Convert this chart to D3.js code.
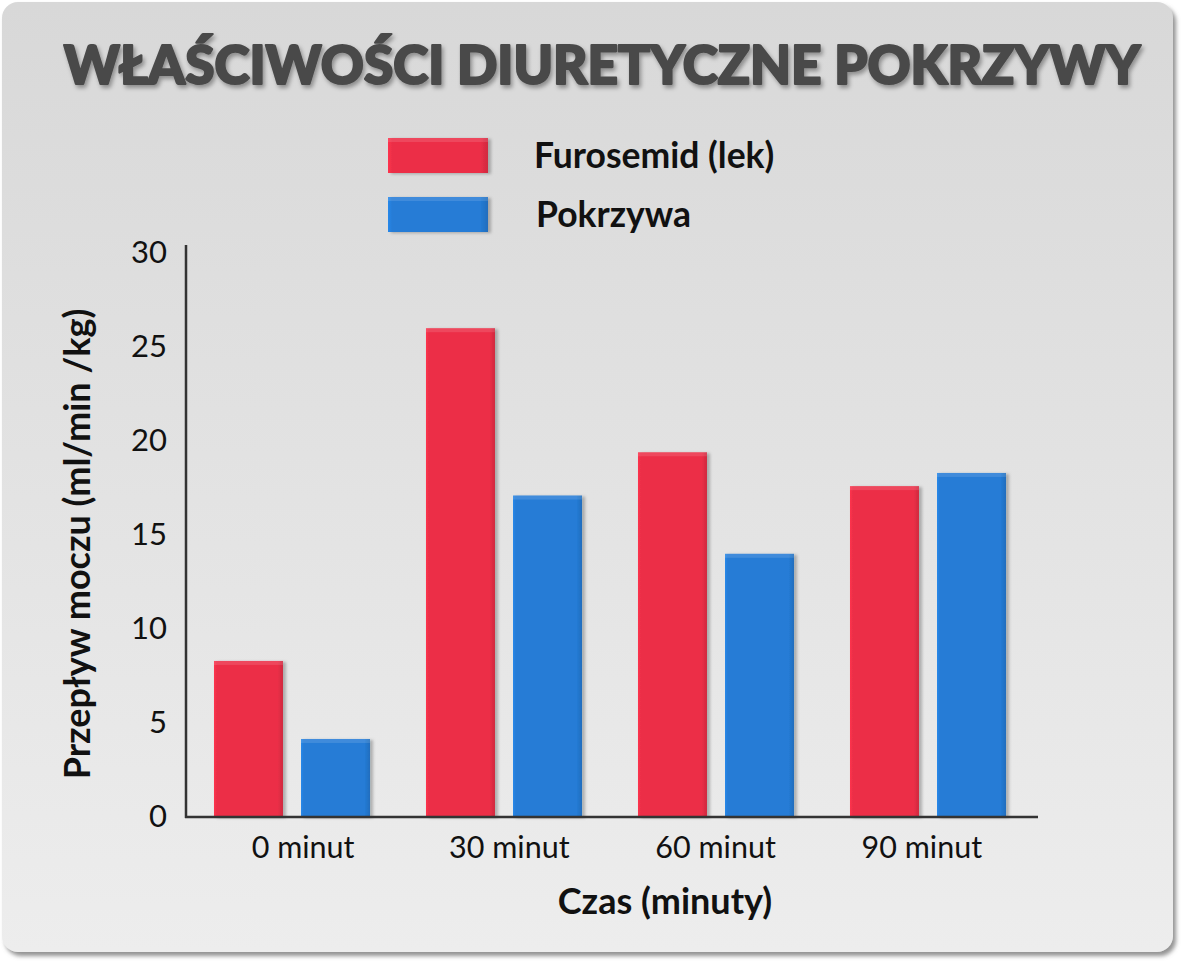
<!DOCTYPE html>
<html>
<head>
<meta charset="utf-8">
<script src="https://cdn.jsdelivr.net/npm/d3@7"></script>
<style>
  body { margin: 0; background: #fff; }
  svg { display: block; font-family: Lato, "Open Sans", sans-serif; }
</style>
</head>
<body>
<svg id="chart"></svg>
<script>
// data
var categories = ["0 minut", "30 minut", "60 minut", "90 minut"]
var seriesNames = ["Furosemid (lek)", "Pokrzywa"]
var furosemid = [8.3, 26.0, 19.4, 17.6]
var pokrzywa = [4.15, 17.1, 14.0, 18.3]
var yTicks = [0, 5, 10, 15, 20, 25, 30]

var width = 1183
var height = 965
var colors = ["#ec2f47", "#257cd6"]

var svg = d3.select("#chart").attr("width", width).attr("height", height)
var defs = svg.append("defs")

// card background
var bg = defs.append("linearGradient").attr("id", "bg").attr("x1", 0).attr("x2", 0).attr("y1", 0).attr("y2", 1)
bg.append("stop").attr("offset", "0%").attr("stop-color", "#d8d8d8")
bg.append("stop").attr("offset", "100%").attr("stop-color", "#ededed")

var sh = defs.append("filter").attr("id", "cardShadow").attr("x", "-5%").attr("y", "-5%").attr("width", "110%").attr("height", "110%")
sh.append("feDropShadow").attr("dx", 3).attr("dy", 4).attr("stdDeviation", 2).attr("flood-color", "#777").attr("flood-opacity", 0.8)

var bs = defs.append("filter").attr("id", "barShadow").attr("x", "-20%").attr("y", "-10%").attr("width", "140%").attr("height", "120%")
bs.append("feDropShadow").attr("dx", 3).attr("dy", 1).attr("stdDeviation", 1.5).attr("flood-color", "#000").attr("flood-opacity", 0.25)

var ts = defs.append("filter").attr("id", "titleShadow").attr("x", "-5%").attr("y", "-20%").attr("width", "110%").attr("height", "140%")
ts.append("feDropShadow").attr("dx", 2).attr("dy", 3).attr("stdDeviation", 2).attr("flood-color", "#000").attr("flood-opacity", 0.35)

// horizontal shading on bars: light left edge, dark right edge
colors.forEach(function (c, i) {
  var g = defs.append("linearGradient").attr("id", "bar" + i).attr("x1", 0).attr("x2", 1).attr("y1", 0).attr("y2", 0)
  g.append("stop").attr("offset", "0%").attr("stop-color", d3.color(c).brighter(0.25))
  g.append("stop").attr("offset", "4%").attr("stop-color", c)
  g.append("stop").attr("offset", "92%").attr("stop-color", c)
  g.append("stop").attr("offset", "100%").attr("stop-color", d3.color(c).darker(0.35))
})

svg.append("rect")
  .attr("x", 2).attr("y", 2)
  .attr("width", 1171).attr("height", 950)
  .attr("rx", 16)
  .attr("fill", "url(#bg)")
  .attr("filter", "url(#cardShadow)")

// title (stroke thickens it towards Lato Black)
var title = svg.append("text")
  .attr("x", 602).attr("y", 84)
  .attr("text-anchor", "middle")
  .attr("font-weight", 900)
  .attr("font-size", 62)
  .attr("fill", "#4a4a4a")
  .attr("stroke", "#4a4a4a").attr("stroke-width", 2.2).attr("stroke-linejoin", "round")
  .attr("filter", "url(#titleShadow)")
  .text("WŁAŚCIWOŚCI DIURETYCZNE POKRZYWY")
var tw = title.node().getComputedTextLength()
title.attr("font-size", 62 * 1077 / tw)

// scales
var x0 = d3.scaleBand().domain(categories).range([186, 1034]).paddingInner(0.264).paddingOuter(0.132)
var x1 = d3.scaleBand().domain(seriesNames).range([0, x0.bandwidth()]).paddingInner(0.207)
var xLabel = d3.scaleBand().domain(categories).range([200, 1025])
var y = d3.scaleLinear().domain([0, 30]).range([817, 253])

var rows = categories.map(function (c, i) {
  return { cat: c, values: [furosemid[i], pokrzywa[i]] }
})

// bars
var groups = svg.append("g").selectAll("g")
  .data(rows)
  .join("g")
  .attr("transform", d => `translate(${x0(d.cat)},0)`)

groups.selectAll("g")
  .data(d => d.values.map((v, i) => ({ v: v, i: i })))
  .join("g")
  .each(function (d) {
    var g = d3.select(this)
    var bx = x1(seriesNames[d.i])
    g.append("rect")
      .attr("x", bx).attr("y", y(d.v))
      .attr("width", x1.bandwidth()).attr("height", y(0) - y(d.v))
      .attr("fill", "url(#bar" + d.i + ")")
      .attr("filter", "url(#barShadow)")
    g.append("rect")
      .attr("x", bx).attr("y", y(d.v))
      .attr("width", x1.bandwidth()).attr("height", 4)
      .attr("fill", "#fff").attr("fill-opacity", 0.12)
  })

// axes
var yAxis = svg.append("g")
  .attr("transform", "translate(186,0)")
  .call(d3.axisLeft(y).tickValues(yTicks).tickSize(0).tickPadding(19))
yAxis.select(".domain").remove()
yAxis.selectAll("text").attr("font-family", "Lato").attr("font-size", 31).attr("fill", "#111")

svg.append("line")
  .attr("x1", 186).attr("x2", 186).attr("y1", 245).attr("y2", y(0) + 1)
  .attr("stroke", "#333").attr("stroke-width", 2.5)

var xAxis = svg.append("g")
  .attr("transform", `translate(0,${y(0)})`)
  .call(d3.axisBottom(xLabel).tickSize(0).tickPadding(19))
xAxis.select(".domain").remove()
xAxis.selectAll("text").attr("font-family", "Lato").attr("font-size", 30.5).attr("fill", "#111")

svg.append("line")
  .attr("x1", 185).attr("x2", 1038).attr("y1", y(0)).attr("y2", y(0))
  .attr("stroke", "#333").attr("stroke-width", 2.5)

// axis titles
svg.append("text")
  .attr("x", 665).attr("y", 914)
  .attr("text-anchor", "middle")
  .attr("font-weight", 700).attr("font-size", 36).attr("fill", "#111")
  .text("Czas (minuty)")

svg.append("text")
  .attr("transform", "translate(90,544) rotate(-90)")
  .attr("text-anchor", "middle")
  .attr("font-weight", 700).attr("font-size", 36).attr("fill", "#111")
  .text("Przepływ moczu (ml/min /kg)")

// legend
var legend = svg.append("g").selectAll("g")
  .data(seriesNames)
  .join("g")
  .attr("transform", (d, i) => `translate(388,${138 + i * 59})`)

legend.append("rect")
  .attr("width", 100).attr("height", 35)
  .attr("fill", (d, i) => "url(#bar" + i + ")")
  .attr("filter", "url(#barShadow)")
legend.append("rect")
  .attr("width", 100).attr("height", 4)
  .attr("fill", "#fff").attr("fill-opacity", 0.12)
legend.append("text")
  .attr("x", (d, i) => i == 0 ? 146 : 148)
  .attr("y", 18).attr("dy", "0.35em")
  .attr("font-weight", 700).attr("font-size", 35.5).attr("fill", "#111")
  .text(d => d)
</script>
</body>
</html>
